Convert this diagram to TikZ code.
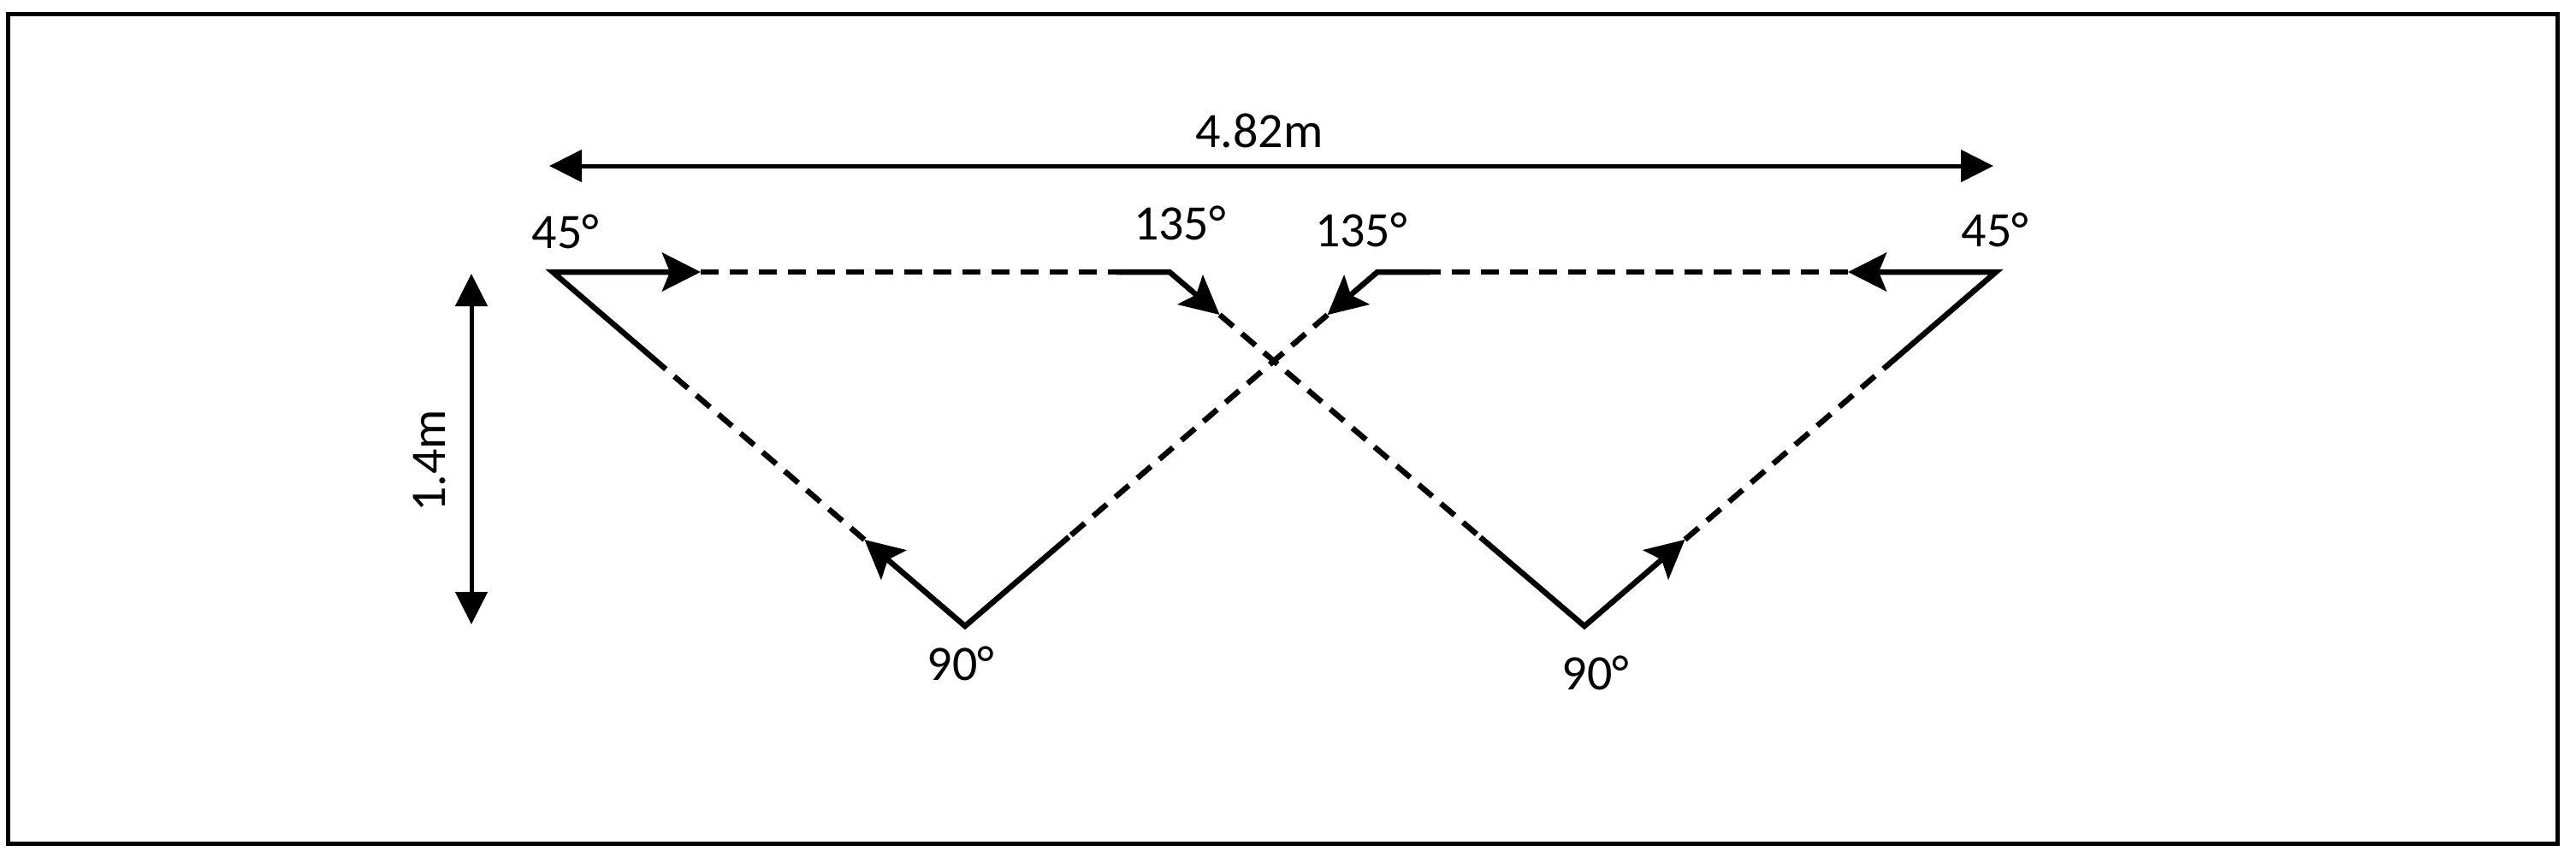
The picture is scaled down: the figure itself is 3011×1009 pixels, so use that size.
\documentclass[tikz,border=0pt]{standalone}
\usepackage{fontspec}
\setmainfont{Carlito}
\usetikzlibrary{arrows.meta,calc}
\begin{document}
\begin{tikzpicture}[x=1pt,y=-1pt,
  pathline/.style={line width=6.5pt, line join=miter},
  dashline/.style={line width=6.5pt, dash pattern=on 21pt off 13pt},
  flowtip/.style={-{Stealth[length=45pt,width=45pt,inset=9pt]}},
  dimline/.style={line width=5pt, {Triangle[length=38pt,width=37pt]}-{Triangle[length=38pt,width=37pt]}},
  lbl/.style={font=\fontsize{58}{62}\selectfont, inner sep=0pt, anchor=base},
]
\useasboundingbox (0,0) rectangle (3011,1009);
\draw[line width=5pt] (9,16.5) rectangle (2989,986.5);

% dimension arrows
\coordinate (hl) at (642,194);
\coordinate (hr) at (2330,194);
\coordinate (vt) at (551,320);
\coordinate (vb) at (551,730);
\draw[dimline] (hl) -- (hr);
\draw[dimline] (vt) -- (vb);
\node[lbl] (w) at (1472,172) {4.82m};
\node[font=\fontsize{58}{62}\selectfont, inner sep=0pt, rotate=90] (h) at (502,539) {1.4m};

% vertices
\coordinate (A) at (646,318);
\coordinate (B) at (1367,318);
\coordinate (C) at (1852,732);
\coordinate (D) at (2333,318);
\coordinate (E) at (1610,318);
\coordinate (F) at (1128,732);

\coordinate (fa1) at ($(F)!155pt!(A)$);
\coordinate (fa2) at ($(A)!165pt!(F)$);
\coordinate (ab1) at ($(A)!173pt!(B)$);
\coordinate (ab2) at ($(B)!62pt!(A)$);
\coordinate (bc1) at ($(B)!77pt!(C)$);
\coordinate (bc2) at ($(C)!160pt!(B)$);
\coordinate (cd1) at ($(C)!155pt!(D)$);
\coordinate (cd2) at ($(D)!165pt!(C)$);
\coordinate (de1) at ($(D)!173pt!(E)$);
\coordinate (de2) at ($(E)!62pt!(D)$);
\coordinate (ef1) at ($(E)!77pt!(F)$);
\coordinate (ef2) at ($(F)!160pt!(E)$);

\draw[dashline] (ab1) -- (ab2);
\draw[dashline] (bc1) -- (bc2);
\draw[dashline] (cd1) -- (cd2);
\draw[dashline] (de1) -- (de2);
\draw[dashline] (ef1) -- (ef2);
\draw[dashline] (fa1) -- (fa2);

\draw[pathline, flowtip] (fa2) -- (A) -- (ab1);
\draw[pathline, flowtip] (ab2) -- (B) -- (bc1);
\draw[pathline, flowtip] (bc2) -- (C) -- (cd1);
\draw[pathline, flowtip] (cd2) -- (D) -- (de1);
\draw[pathline, flowtip] (de2) -- (E) -- (ef1);
\draw[pathline, flowtip] (ef2) -- (F) -- (fa1);

% angle labels
\node[lbl] (a1) at (661,290) {45°};
\node[lbl] (a2) at (1379,280) {135°};
\node[lbl] (a3) at (1591,288) {135°};
\node[lbl] (a4) at (2332,288) {45°};
\node[lbl] (a5) at (1123,795) {90°};
\node[lbl] (a6) at (1865,806) {90°};
\end{tikzpicture}
\end{document}
